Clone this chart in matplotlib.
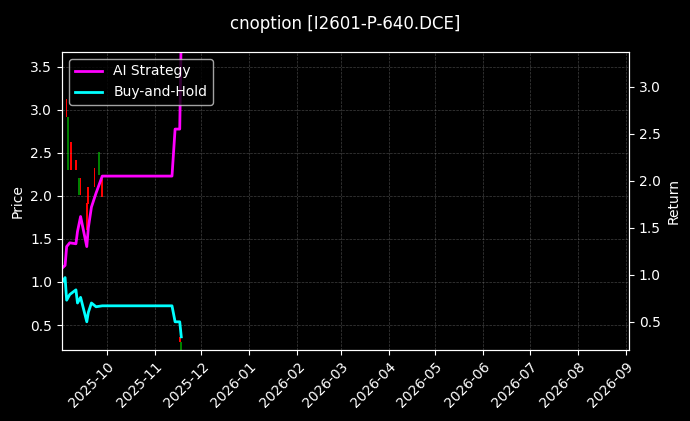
import matplotlib
matplotlib.use("Agg")
import matplotlib.pyplot as plt
import matplotlib.dates as mdates
import pandas as pd

# candles: date, open, close
candle_dates = ["2025-09-02", "2025-09-05", "2025-09-06", "2025-09-08", "2025-09-11",
                "2025-09-13", "2025-09-14", "2025-09-18", "2025-09-19", "2025-09-23",
                "2025-09-26", "2025-09-28", "2025-11-17", "2025-11-18"]
candle_open = [3.12, 3.12, 2.30, 2.62, 2.42, 2.01, 2.21, 1.92, 2.10, 2.32, 2.24, 2.19, 0.36, 0.20]
candle_close = [2.73, 2.92, 2.92, 2.30, 2.30, 2.21, 2.01, 1.60, 1.90, 2.10, 2.51, 1.99, 0.30, 0.30]

line_dates = ["2025-09-02", "2025-09-04", "2025-09-05", "2025-09-07", "2025-09-11",
              "2025-09-12", "2025-09-14", "2025-09-16", "2025-09-18", "2025-09-19",
              "2025-09-21", "2025-09-24", "2025-09-28", "2025-11-12", "2025-11-14",
              "2025-11-17", "2025-11-18"]
ai_strategy = [1.07, 1.10, 1.30, 1.34, 1.33, 1.46, 1.62, 1.46, 1.30, 1.50,
               1.72, 1.87, 2.05, 2.05, 2.55, 2.55, 3.60]
buy_hold = [0.92, 0.97, 0.73, 0.79, 0.84, 0.70, 0.76, 0.63, 0.50, 0.60,
            0.70, 0.66, 0.67, 0.67, 0.50, 0.50, 0.34]

plt.style.use("dark_background")
fig = plt.figure(figsize=(6.9, 4.21), dpi=100)
ax = fig.add_axes([62 / 690, 71 / 421, 567 / 690, 298 / 421])
ax2 = ax.twinx()

cd = pd.to_datetime(candle_dates)
for d, o, c in zip(cd, candle_open, candle_close):
    col = "red" if c < o else "green"
    ax.bar(d, abs(c - o), bottom=min(o, c), width=1.1, color=col)

ld = pd.to_datetime(line_dates)
ax2.plot(ld, ai_strategy, color="magenta", lw=2, label="AI Strategy")
ax2.plot(ld, buy_hold, color="cyan", lw=2, label="Buy-and-Hold")

ax.set_ylim(0.21, 3.67)
ax2.set_ylim(0.20, 3.37)
ax.set_xlim(pd.Timestamp("2025-09-02"), pd.Timestamp("2026-09-03"))
ax.xaxis.set_major_locator(mdates.MonthLocator())
ax.xaxis.set_major_formatter(mdates.DateFormatter("%Y-%m"))
plt.setp(ax.get_xticklabels(), rotation=45, ha="right", rotation_mode="anchor")
ax.set_ylabel("Price")
ax2.set_ylabel("Return")
ax.grid(True, ls="--", lw=0.5, color="gray", alpha=0.5)
ax2.legend(loc="upper left")
fig.suptitle("cnoption [I2601-P-640.DCE]", y=0.965, fontsize=12)
fig.savefig("out.png", dpi=100)
